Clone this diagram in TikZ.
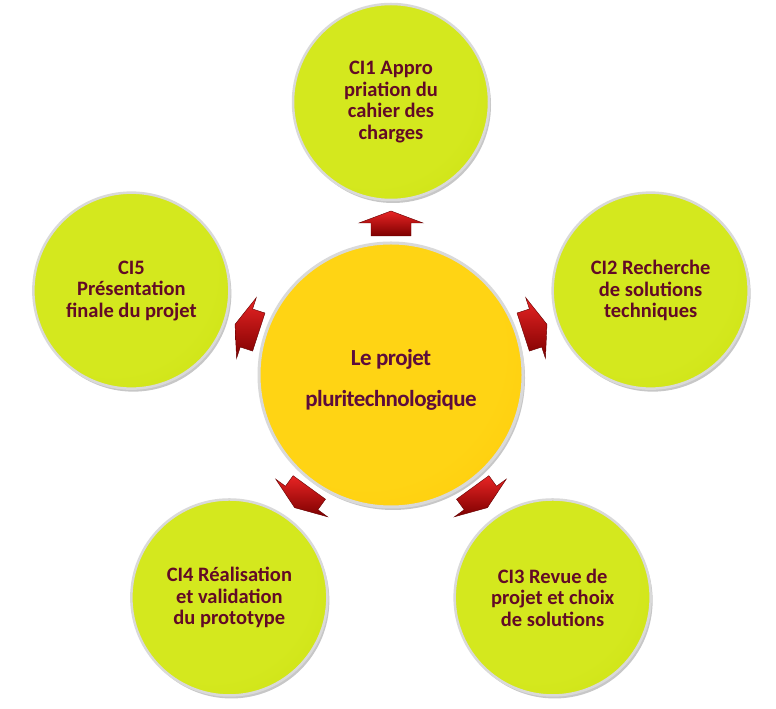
\documentclass[tikz,border=0pt]{standalone}
\usepackage{fontspec}
\setmainfont{Carlito}
\newfontfamily\tightfont{Carlito}[LetterSpace=-2.5]
\usetikzlibrary{shadows,calc}
\definecolor{gA}{RGB}{212,232,30}
\definecolor{gB}{RGB}{198,220,8}
\definecolor{gC}{RGB}{158,174,0}
\definecolor{oA}{RGB}{255,212,20}
\definecolor{oB}{RGB}{253,196,0}
\definecolor{oC}{RGB}{226,148,0}
\definecolor{txt}{RGB}{98,10,38}
\definecolor{ctxt}{RGB}{92,12,60}
\definecolor{arA}{RGB}{232,36,36}
\definecolor{arB}{RGB}{125,0,0}
\pgfdeclareradialshading{greenball}{\pgfpoint{-8bp}{8bp}}{color(0bp)=(gA);color(26bp)=(gA);color(50bp)=(gB);color(57bp)=(gC);color(64bp)=(gC)}
\pgfdeclareradialshading{goldball}{\pgfpoint{-8bp}{8bp}}{color(0bp)=(oA);color(26bp)=(oA);color(50bp)=(oB);color(57bp)=(oC);color(64bp)=(oC)}
\tikzset{
  ci/.style={circle, minimum size=196pt, inner sep=0pt, shading=greenball,
    draw=gray!30, line width=2.5pt, text=txt, align=center,
    font=\bfseries\fontsize{20.5}{21.5}\selectfont,
    drop shadow={shadow xshift=2pt, shadow yshift=-3pt, fill=black, opacity=0.22}},
  core/.style={circle, minimum size=264pt, inner sep=0pt, shading=goldball,
    draw=gray!30, line width=3pt,
    drop shadow={shadow xshift=2pt, shadow yshift=-3pt, fill=black, opacity=0.22}},
  coretext/.style={text=ctxt, align=center, font=\tightfont\bfseries\fontsize{23}{41}\selectfont},
  arrowshape/.style={top color=arA, bottom color=arB, draw=arB!80!black, line width=0.4pt}
}
\begin{document}
\begin{tikzpicture}[x=1pt,y=1pt]
\fill[white] (0,0) rectangle (776,709);
\useasboundingbox (0,0) rectangle (776,709);
\node[core] (c) at (391,334) {};
\node[coretext] (ct) at (391,329) {Le projet\\pluritechnologique};
\node[ci] (ci1) at ($(391,334)+(90:273)$) {CI1 Appro\\priation du\\cahier des\\charges};
\node[ci] (ci2) at ($(391,334)+(18:273)$) {CI2 Recherche\\de solutions\\techniques};
\node[ci] (ci3) at ($(391,334)+(-54:275)$) {CI3 Revue de\\projet et choix\\de solutions};
\node[ci] (ci4) at ($(391,334)+(-126:275)$) {CI4 Réalisation\\et validation\\du prototype};
\node[ci] (ci5) at ($(391,334)+(162:273)$) {CI5\\Présentation\\finale du projet};
\foreach \a in {90,18,-54,-126,162}{
  \begin{scope}[shift={(c.center)}, rotate=\a]
    \shade[arrowshape] (139,-20) -- (152,-20) -- (152,-32) -- (164,0) -- (152,32) -- (152,20) -- (139,20) -- cycle;
  \end{scope}
}
\end{tikzpicture}
\end{document}
